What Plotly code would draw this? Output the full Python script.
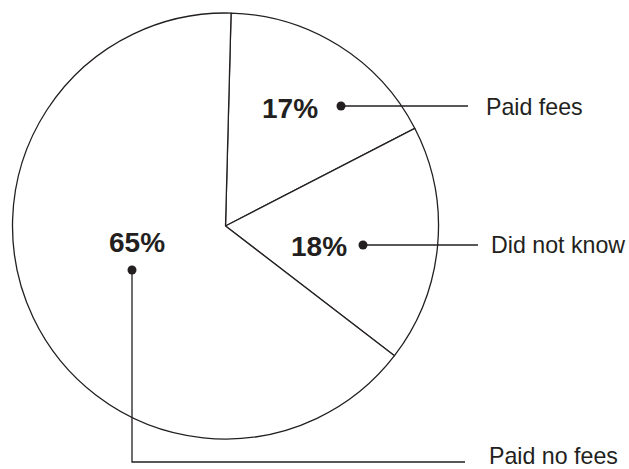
import plotly.graph_objects as go

# ---- data ----
labels = ["Paid fees", "Did not know", "Paid no fees"]
values = [17, 18, 65]
pct_text = ["17%", "18%", "65%"]

# ---- layout helpers (pixel geometry of the page) ----
W, H = 629, 469
cx, cy, R = 225.5, 226, 213
INK = "#231f20"


def px(x):
    return x / W


def py(y):
    return 1 - y / H


fig = go.Figure(
    go.Pie(
        labels=labels,
        values=values,
        sort=False,
        direction="clockwise",
        rotation=1.5,
        marker=dict(colors=["white"] * 3, line=dict(color=INK, width=1.3)),
        textinfo="none",
        hoverinfo="label+percent",
        showlegend=False,
        domain=dict(x=[px(cx - R), px(cx + R)], y=[py(cy + R), py(cy - R)]),
    )
)

# percent labels (pixel positions) and outside labels
pct_pos = [(290, 108), (319, 247), (136.5, 242)]
lab_pos = [(484, 107), (489, 245), (487, 456)]
# leader lines: lists of points, first point = dot
leaders = [
    [(341, 106), (468, 106)],
    [(363, 245), (478, 245)],
    [(132, 270), (132, 462), (465, 462)],
]

annotations = []
shapes = []
for i in range(len(labels)):
    x, y = pct_pos[i]
    annotations.append(dict(
        x=px(x), y=py(y), xref="paper", yref="paper", text="<b>%s</b>" % pct_text[i],
        showarrow=False, xanchor="center", yanchor="middle",
        font=dict(family="Liberation Sans, Arial, sans-serif", size=28, color=INK),
    ))
    lx, ly = lab_pos[i]
    annotations.append(dict(
        x=px(lx), y=py(ly), xref="paper", yref="paper", text=labels[i],
        showarrow=False, xanchor="left", yanchor="middle",
        font=dict(family="Liberation Sans, Arial, sans-serif", size=23.2, color=INK),
    ))
    pts = leaders[i]
    path = "M " + " L ".join("%f,%f" % (px(a), py(b)) for a, b in pts)
    shapes.append(dict(type="path", path=path, xref="paper", yref="paper",
                       line=dict(color=INK, width=1.3)))
    dx, dy = pts[0]
    r = 4.5
    shapes.append(dict(type="circle", xref="paper", yref="paper",
                       x0=px(dx - r), x1=px(dx + r), y0=py(dy + r), y1=py(dy - r),
                       fillcolor=INK, line=dict(color=INK, width=0)))

fig.update_layout(
    width=W, height=H,
    margin=dict(l=0, r=0, t=0, b=0),
    paper_bgcolor="white", plot_bgcolor="white",
    annotations=annotations, shapes=shapes,
)

fig.write_html(
    "out.html",
    config={"displayModeBar": False},
    post_script="document.body.style.margin='0';document.body.style.overflow='hidden';",
)
